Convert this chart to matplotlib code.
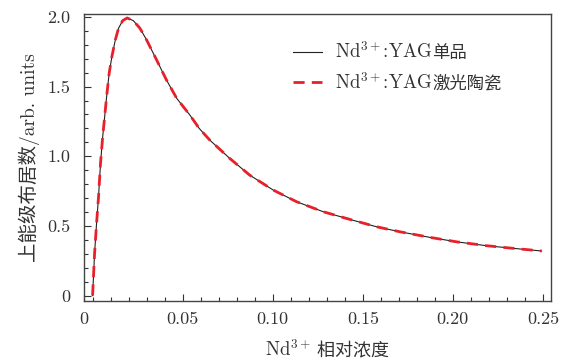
import matplotlib
matplotlib.use("Agg")
import matplotlib.pyplot as plt
from matplotlib.ticker import FixedLocator

FAM = ['cmr10', 'DejaVu Serif', 'Noto Sans CJK SC']
plt.rcParams['font.family'] = FAM
plt.rcParams['mathtext.fontset'] = 'cm'
plt.rcParams['axes.formatter.use_mathtext'] = True

# concentration values
conc = [0.0, 0.0011, 0.0022, 0.0033, 0.0044, 0.0056, 0.0067, 0.0078, 0.0092,
        0.0107, 0.0126, 0.0144, 0.0167, 0.0192, 0.0226, 0.0263, 0.030, 0.0356,
        0.041, 0.0467, 0.054, 0.0592, 0.065, 0.0761, 0.0872, 0.1002, 0.1132,
        0.128, 0.1428, 0.1576, 0.1706, 0.1872, 0.202, 0.2187, 0.2335, 0.2493]
pop_single = [0.0, 0.303, 0.518, 0.71, 0.95, 1.14, 1.284, 1.43, 1.596,
              1.715, 1.835, 1.919, 1.974, 1.993, 1.974, 1.919, 1.835, 1.69,
              1.548, 1.416, 1.296, 1.2, 1.117, 0.985, 0.865, 0.758, 0.674,
              0.602, 0.547, 0.494, 0.458, 0.418, 0.386, 0.358, 0.339, 0.32]
pop_ceramic = [0.0, 0.303, 0.518, 0.71, 0.95, 1.14, 1.284, 1.43, 1.596,
               1.715, 1.835, 1.919, 1.974, 1.993, 1.974, 1.919, 1.835, 1.69,
               1.548, 1.416, 1.296, 1.2, 1.117, 0.985, 0.865, 0.758, 0.674,
               0.602, 0.547, 0.494, 0.458, 0.418, 0.386, 0.358, 0.339, 0.32]

# labels: Latin part (mathtext) + Chinese part
label_latin = [r"Nd$^{3+}$:YAG", r"Nd$^{3+}$:YAG"]
label_cjk = ["单品", "激光陶瓷"]
xlabel_latin = r"Nd$^{3+}$"
xlabel_cjk = "相对浓度"
ylabel = "上能级布居数/arb. units"
xtick_vals = [0.05, 0.10, 0.15, 0.20, 0.25]
xtick_labels = ["0.05", "0.10", "0.15", "0.20", "0.25"]
ytick_vals = [0, 0.5, 1.0, 1.5, 2.0]
ytick_labels = ["0", "0.5", "1.0", "1.5", "2.0"]

TXT = '#333333'
fig = plt.figure(figsize=(5.75, 3.62), dpi=100)
ax = fig.add_axes([0.146, 0.1693, 0.812, 0.792])

ax.plot(conc, pop_single, color='#222222', lw=0.8, label=label_latin[0])
ax.plot(conc, pop_ceramic, color='#e8202a', lw=2.0, dashes=(4, 2.6), label=label_latin[1])

xmin, xmax = -0.0048, 0.2544
ax.set_xlim(xmin, xmax)
ax.set_ylim(-0.037, 2.0215)

ax.set_xticks([xmin] + xtick_vals)
ax.set_xticklabels(["0"] + xtick_labels)
ax.xaxis.set_minor_locator(FixedLocator([i * 0.01 for i in range(0, 26) if i % 5 != 0 or i == 0]))
ax.set_yticks(ytick_vals)
ax.set_yticklabels(ytick_labels)
ax.yaxis.set_minor_locator(FixedLocator([i * 0.1 for i in range(0, 21) if i % 5 != 0]))

ax.tick_params(which='both', direction='in', top=False, right=False, labelsize=13,
               colors=TXT, labelcolor=TXT)
ax.tick_params(which='major', length=5, width=0.8)
ax.tick_params(which='minor', length=3, width=0.8)
ax.tick_params(axis='x', pad=8)
ax.tick_params(axis='y', pad=10)
for s in ax.spines.values():
    s.set_color('#444444')
    s.set_linewidth(1.0)

ax.set_ylabel(ylabel, fontsize=14, color=TXT, labelpad=5)

leg = ax.legend(loc='upper left', bbox_to_anchor=(0.4475, 0.905), frameon=False,
                prop={'size': 13.5}, labelspacing=0.5, borderpad=0, borderaxespad=0,
                handlelength=1.55, handletextpad=0.7)
for t in leg.get_texts():
    t.set_color(TXT)

# x label, Latin part with superscript, Chinese part appended
xl = fig.text(0.0, 0.0, xlabel_latin, fontsize=13.5, color=TXT, ha='left', va='baseline')

fig.canvas.draw()
r = fig.canvas.get_renderer()
inv = fig.transFigure.inverted()

cjk_x = fig.text(0, 0, " " + xlabel_cjk, fontsize=13, color=TXT, ha='left', va='baseline')
w1 = xl.get_window_extent(r).width
w2 = cjk_x.get_window_extent(r).width
H = fig.bbox.height
left_px = 327 - (w1 + w2) / 2
base_px = H - 356
xl.set_position(inv.transform((left_px, base_px)))
cjk_x.set_position(inv.transform((left_px + w1, base_px)))

# legend: append Chinese part after each Latin label
for t, s in zip(leg.get_texts(), label_cjk):
    bb = t.get_window_extent(r)
    base = t.get_transform().transform((0, 0))
    fig.text(*inv.transform((bb.x1, base[1])), s, fontsize=12.5, color=TXT,
             ha='left', va='baseline')

fig.savefig("out.png", dpi=100)
